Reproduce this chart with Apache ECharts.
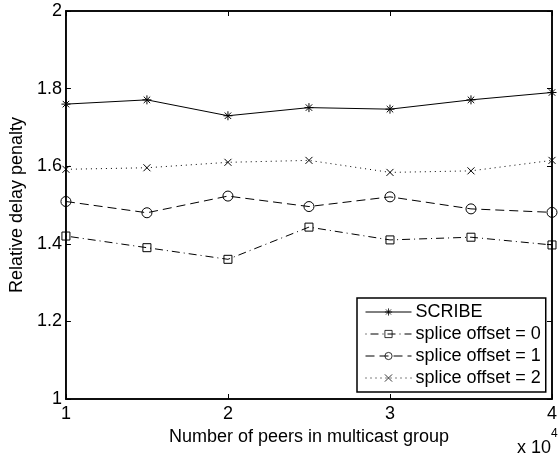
<!DOCTYPE html>
<html>
<head>
<meta charset="utf-8">
<script src="https://cdn.jsdelivr.net/npm/echarts@6/dist/echarts.min.js"></script>
<style>html,body{margin:0;padding:0;background:#fff}#c{width:560px;height:453px}</style>
</head>
<body>
<div id="c"></div>
<script>
const peers = [10000, 15000, 20000, 25000, 30000, 35000, 40000];
const scribe = [1.760, 1.771, 1.730, 1.751, 1.747, 1.771, 1.790];
const offset0 = [1.420, 1.390, 1.360, 1.443, 1.410, 1.417, 1.397];
const offset1 = [1.509, 1.480, 1.523, 1.496, 1.521, 1.490, 1.481];
const offset2 = [1.592, 1.596, 1.610, 1.615, 1.584, 1.588, 1.615];
const seriesNames = ['SCRIBE', 'splice offset = 0', 'splice offset = 1', 'splice offset = 2'];
const xTickLabels = ['1', '2', '3', '4'];
const yTickLabels = ['1', '1.2', '1.4', '1.6', '1.8', '2'];

const FONT = 'Liberation Sans, Arial, Helvetica, sans-serif';
const FS = 18;
const pair = ys => peers.map((x, i) => [x, ys[i]]);
const starPath = 'path://M0,-5L0,5M-5,0L5,0M-3.6,-3.6L3.6,3.6M-3.6,3.6L3.6,-3.6';
const xPath = 'path://M-4,-4L4,4M-4,4L4,-4';
const hollow = {color: 'transparent', borderColor: '#000', borderWidth: 1};

function mk(name, ys, symbol, size, type) {
  return {
    name, type: 'line', data: pair(ys), symbol, symbolSize: size,
    lineStyle: {color: '#000', width: 1, type},
    itemStyle: hollow,
    showAllSymbol: true, animation: false
  };
}

const chart = echarts.init(document.getElementById('c'), null, {renderer: 'canvas'});
const xLab = v => xTickLabels[Math.round((v - 10000) / 10000)];
const yLab = v => yTickLabels[Math.round((v - 1) / 0.2)];
chart.setOption({
  backgroundColor: '#fff',
  animation: false,
  textStyle: {fontFamily: FONT},
  grid: {left: 64, right: 3, top: 11, bottom: 54, show: true, borderColor: '#000', borderWidth: 1.5, backgroundColor: 'transparent'},
  xAxis: [{
    type: 'value', min: 10000, max: 40000, interval: 10000,
    name: 'Number of peers in multicast group', nameLocation: 'middle', nameGap: 28,
    nameTextStyle: {fontSize: FS, color: '#000', fontFamily: FONT},
    axisLine: {show: true, lineStyle: {color: '#000', width: 1.5}},
    axisTick: {show: true, inside: true, length: 5, lineStyle: {color: '#000'}},
    axisLabel: {formatter: xLab, fontSize: FS, color: '#000', margin: 6, fontFamily: FONT},
    splitLine: {show: false}
  }, {
    type: 'value', min: 10000, max: 40000, interval: 10000, position: 'top',
    axisLine: {show: true, lineStyle: {color: '#000', width: 1.5}},
    axisTick: {show: true, inside: true, length: 5, lineStyle: {color: '#000'}},
    axisLabel: {show: false}, splitLine: {show: false}
  }],
  yAxis: [{
    type: 'value', min: 1, max: 2, interval: 0.2,
    name: 'Relative delay penalty', nameLocation: 'middle', nameGap: 29,
    nameTextStyle: {fontSize: FS, color: '#000', fontFamily: FONT},
    axisLine: {show: true, lineStyle: {color: '#000', width: 1.5}},
    axisTick: {show: true, inside: true, length: 5, lineStyle: {color: '#000'}},
    axisLabel: {formatter: yLab, fontSize: FS, color: '#000', margin: 4, fontFamily: FONT},
    splitLine: {show: false}
  }, {
    type: 'value', min: 1, max: 2, interval: 0.2, position: 'right',
    axisLine: {show: true, lineStyle: {color: '#000', width: 1.5}},
    axisTick: {show: true, inside: true, length: 5, lineStyle: {color: '#000'}},
    axisLabel: {show: false}, splitLine: {show: false}
  }],
  legend: {
    left: 357, top: 298, orient: 'vertical',
    backgroundColor: '#fff', borderColor: '#000', borderWidth: 1.5,
    padding: [5, 5, 5, 8], itemWidth: 46, itemHeight: 9, itemGap: 4,
    itemStyle: {color: 'transparent', borderColor: '#000', borderWidth: 0.8},
    lineStyle: {width: 1},
    textStyle: {fontSize: FS, color: '#000', fontFamily: FONT, padding: [0, 0, 0, -1]},
    data: seriesNames
  },
  series: [
    mk(seriesNames[0], scribe, starPath, 9, 'solid'),
    mk(seriesNames[1], offset0, 'rect', 8, [1, 4, 8, 4]),
    mk(seriesNames[2], offset1, 'circle', 10, [9, 5]),
    mk(seriesNames[3], offset2, xPath, 7, [1, 4])
  ],
  graphic: [
    {type: 'text', left: 517, top: 439, style: {text: 'x 10', font: '18px ' + FONT, fill: '#000'}},
    {type: 'text', left: 551, top: 428, style: {text: '4', font: '12px ' + FONT, fill: '#000'}}
  ]
});
</script>
</body>
</html>
